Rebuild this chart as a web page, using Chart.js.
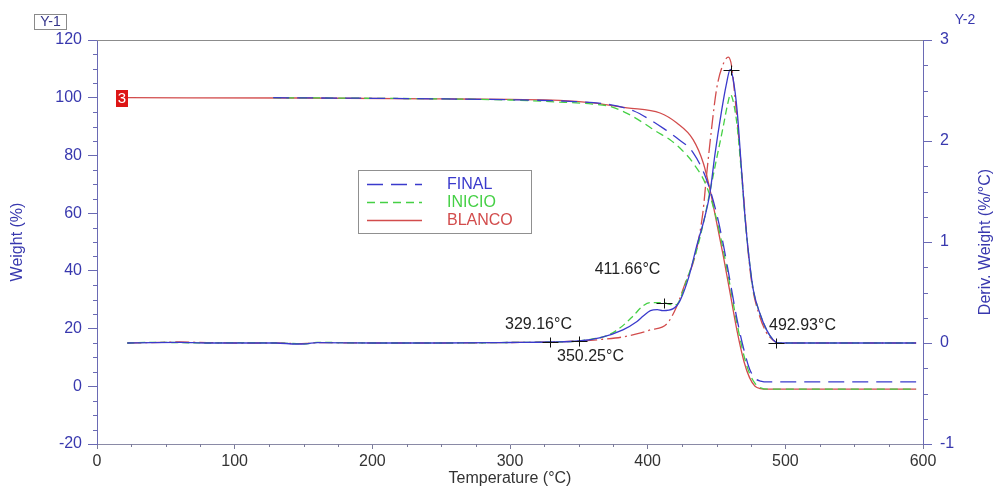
<!DOCTYPE html>
<html>
<head>
<meta charset="utf-8">
<title>TGA</title>
<script src="https://cdn.jsdelivr.net/npm/chart.js@4.4.1/dist/chart.umd.min.js"></script>
<style>
  html, body { margin: 0; padding: 0; background: #fff; }
  #wrap { width: 995px; height: 488px; }
</style>
</head>
<body>
<div id="wrap"><canvas id="tga" width="995" height="488"></canvas></div>
<script>
// TGA overlay: weight (%) on the left axis, derivative weight (%/°C) on the right.

// --------------------- Data ---------------------
const seriesNames = ["FINAL", "INICIO", "BLANCO"];

// weight curves
const tFinalW = [128, 200, 250, 300, 340, 372.6, 390, 401.7, 412, 421, 433.1, 442.8, 450, 455, 460, 465, 470, 474, 478, 482, 488, 595];
const wFinal  = [100, 99.8, 99.6, 99.3, 98.8, 97.6, 95.4, 92.4, 89.2, 86.1, 80.9, 71.6, 60, 49, 36, 23, 12.5, 6, 2.8, 1.8, 1.5, 1.5];

const tInicioW = [128, 200, 250, 300, 340, 360, 372.6, 385, 396.8, 406, 416, 425, 433, 442.8, 450, 455, 460, 465, 470, 474, 478, 482, 487, 595];
const wInicio  = [100, 99.8, 99.6, 99.2, 98.4, 97.8, 97.0, 94.6, 91.3, 88.4, 85.5, 81.8, 77.4, 69.3, 58, 47, 34.5, 21.5, 10.5, 4.5, 1, -0.5, -1, -1];

const tBlancoW = [22, 150, 250, 300, 336, 360, 385, 409, 421, 433, 440.4, 445.3, 450, 455, 460, 465, 470, 474, 478, 482, 487, 595];
const wBlanco  = [100, 99.9, 99.6, 99.4, 99.1, 98.2, 96.5, 94.7, 91.3, 85.5, 77.4, 68.1, 57, 45, 32, 19, 8.5, 3, 0, -0.8, -1, -1];

// derivative curves
const tFinalD = [22, 40, 60, 80, 100, 130, 145, 152, 160, 200, 250, 300, 330, 350, 365, 382, 392, 397, 402, 407, 411, 418.6, 423.5, 430, 436, 441, 445.3, 448.8, 453.6, 457, 460, 462, 465, 468, 471, 474, 476.8, 481.6, 486.4, 491.2, 495, 595];
const dFinal  = [0, 0.004, 0.006, 0, 0, 0, -0.01, -0.008, 0.004, 0, 0, 0.005, 0.01, 0.02, 0.05, 0.13, 0.21, 0.27, 0.32, 0.33, 0.32, 0.34, 0.42, 0.66, 0.98, 1.22, 1.49, 1.86, 2.29, 2.55, 2.71, 2.62, 2.3, 1.75, 1.2, 0.8, 0.52, 0.29, 0.13, 0.03, 0, 0];

const tInicioD = [22, 40, 60, 80, 100, 130, 145, 152, 160, 200, 250, 300, 330, 350, 360, 370, 380, 389.6, 396, 401.7, 411.4, 417, 421, 424, 428.3, 435.6, 441, 446, 450, 455, 458, 460.2, 462, 465, 468, 471, 474, 476.8, 481.6, 486.4, 491.2, 495, 595];
const dInicio  = [0, 0.006, 0.004, 0, 0.004, 0, -0.006, -0.008, 0.006, 0, 0, 0.005, 0.01, 0.02, 0.04, 0.07, 0.15, 0.27, 0.36, 0.40, 0.40, 0.38, 0.38, 0.45, 0.62, 0.92, 1.22, 1.55, 1.82, 2.15, 2.36, 2.46, 2.4, 2.15, 1.7, 1.2, 0.8, 0.52, 0.29, 0.13, 0.03, 0, 0];

const tBlancoD = [22, 40, 60, 80, 100, 130, 145, 152, 160, 200, 250, 300, 330, 350, 370, 382, 395, 402, 414, 421, 428, 434, 440, 443, 446.4, 450, 454, 458.6, 461, 464, 467, 470, 473, 476, 481, 486, 491, 495, 595];
const dBlanco  = [0, 0.004, 0.01, 0.004, 0, 0, -0.006, -0.004, 0.004, 0, 0, 0.005, 0.01, 0.02, 0.04, 0.06, 0.1, 0.13, 0.19, 0.36, 0.62, 0.84, 1.28, 1.69, 2.12, 2.51, 2.73, 2.83, 2.74, 2.35, 1.9, 1.4, 0.9, 0.56, 0.28, 0.11, 0.03, 0, 0];

// marked temperatures on the derivative curves (last one is the unlabeled peak)
const markTemps = [329.16, 350.25, 411.66, 492.93, 460.5];
const markDeriv = [0.005, 0.015, 0.40, 0.0, 2.70];

// axes
const tempRange = [0, 600];
const weightRange = [-20, 120];
const derivRange = [-1, 3];

// --------------------- Styles ---------------------
const FONT = "'Liberation Sans', Arial, sans-serif";
const BLUE_TXT = "#3838ae";
const AXIS_BLUE = "#6a6ab4";
const colors = { FINAL: "#3a3acc", INICIO: "#45d045", BLANCO: "#d24c4c" };
const weightDash = { FINAL: [16, 8], INICIO: [8, 5], BLANCO: [] };
const derivDash = { FINAL: [], INICIO: [7, 4], BLANCO: [14, 4, 2, 4] };

const pts = (xs, ys) => xs.map((x, i) => ({ x, y: ys[i] }));

function line(label, data, axis, color, dash) {
  return {
    label, data, yAxisID: axis,
    borderColor: color, backgroundColor: color,
    borderWidth: 1.3, borderDash: dash,
    pointRadius: 0, showLine: true, fill: false,
    cubicInterpolationMode: "monotone"
  };
}

const datasets = [
  line("FINAL", pts(tFinalW, wFinal), "y", colors.FINAL, weightDash.FINAL),
  line("FINAL d", pts(tFinalD, dFinal), "y2", colors.FINAL, derivDash.FINAL),
  line("INICIO", pts(tInicioW, wInicio), "y", colors.INICIO, weightDash.INICIO),
  line("INICIO d", pts(tInicioD, dInicio), "y2", colors.INICIO, derivDash.INICIO),
  line("BLANCO", pts(tBlancoW, wBlanco), "y", colors.BLANCO, weightDash.BLANCO),
  line("BLANCO d", pts(tBlancoD, dBlanco), "y2", colors.BLANCO, derivDash.BLANCO)
];

// --------------------- Plugins ---------------------
function drawMinor(ctx, scale, step, major, len, side, color) {
  ctx.save();
  ctx.strokeStyle = color;
  ctx.lineWidth = 1;
  ctx.beginPath();
  for (let v = scale.min; v <= scale.max + 1e-9; v += step) {
    const r = v / major;
    if (Math.abs(r - Math.round(r)) < 1e-6) continue;
    const p = Math.round(scale.getPixelForValue(v)) + 0.5;
    if (side === "left") { ctx.moveTo(scale.right - len, p); ctx.lineTo(scale.right, p); }
    else if (side === "right") { ctx.moveTo(scale.left, p); ctx.lineTo(scale.left + len, p); }
    else { ctx.moveTo(p, scale.top); ctx.lineTo(p, scale.top + len); }
  }
  ctx.stroke();
  ctx.restore();
}

const framePlugin = {
  id: "frame",
  afterDraw(chart) {
    const { ctx, chartArea: a, scales } = chart;
    // top border
    ctx.save();
    ctx.strokeStyle = "#8c8c8c";
    ctx.lineWidth = 1;
    ctx.beginPath();
    ctx.moveTo(a.left, Math.round(a.top) + 0.5);
    ctx.lineTo(a.right, Math.round(a.top) + 0.5);
    ctx.stroke();
    ctx.restore();

    drawMinor(ctx, scales.y, 5, 20, 4, "left", AXIS_BLUE);
    drawMinor(ctx, scales.y2, 0.25, 1, 5, "right", AXIS_BLUE);
    drawMinor(ctx, scales.x, 25, 100, 3, "bottom", "#7a7a9a");

    // "Y-1" tag
    ctx.save();
    ctx.strokeStyle = "#8a8a8a";
    ctx.strokeRect(34.5, 14.5, 32, 15);
    ctx.font = "14px " + FONT;
    ctx.fillStyle = "#33338a";
    ctx.textAlign = "center";
    ctx.textBaseline = "middle";
    ctx.fillText("Y-1", 50.5, 22.5);
    ctx.fillStyle = BLUE_TXT;
    ctx.fillText("Y-2", 965, 20);

    // right axis title, reading upward
    ctx.font = "16px " + FONT;
    ctx.translate(986, (a.top + a.bottom) / 2);
    ctx.rotate(-Math.PI / 2);
    ctx.fillText("Deriv. Weight (%/°C)", 0, 0);
    ctx.restore();
  }
};

// crosses + temperature labels on the derivative curves
const labelNudge = [[-12, -18], [11, 15], [-37, -34], [26, -18]];
const marksPlugin = {
  id: "marks",
  afterDatasetsDraw(chart) {
    const { ctx, scales } = chart;
    ctx.save();
    ctx.strokeStyle = "#111";
    ctx.lineWidth = 1;
    ctx.font = "16px " + FONT;
    ctx.fillStyle = "#222";
    ctx.textAlign = "center";
    ctx.textBaseline = "middle";
    markTemps.forEach((t, i) => {
      const px = Math.round(scales.x.getPixelForValue(t)) + 0.5;
      const py = Math.round(scales.y2.getPixelForValue(markDeriv[i])) + 0.5;
      ctx.beginPath();
      ctx.moveTo(px - 8, py); ctx.lineTo(px + 8, py);
      ctx.moveTo(px, py - 5); ctx.lineTo(px, py + 5);
      ctx.stroke();
      const n = labelNudge[i];
      if (n) ctx.fillText(t.toFixed(2) + "°C", px + n[0], py + n[1]);
    });

    // start tag on the BLANCO weight curve
    const sx = scales.x.getPixelForValue(tBlancoW[0]);
    const sy = scales.y.getPixelForValue(wBlanco[0]);
    ctx.fillStyle = "#dd1515";
    ctx.fillRect(Math.round(sx) - 11, Math.round(sy) - 8, 12, 17);
    ctx.fillStyle = "#fff";
    ctx.font = "15px " + FONT;
    ctx.fillText("3", Math.round(sx) - 5, Math.round(sy) + 1);
    ctx.restore();
  }
};

const legendPlugin = {
  id: "legendBox",
  afterDatasetsDraw(chart) {
    const { ctx } = chart;
    const bx = 358, by = 170, bw = 173, bh = 63;
    ctx.save();
    ctx.fillStyle = "#fff";
    ctx.fillRect(bx, by, bw, bh);
    ctx.strokeStyle = "#909090";
    ctx.lineWidth = 1;
    ctx.strokeRect(bx + 0.5, by + 0.5, bw, bh);
    ctx.font = "16px " + FONT;
    ctx.textBaseline = "middle";
    seriesNames.forEach((name, i) => {
      const y = by + 14.5 + i * 18;
      ctx.strokeStyle = colors[name];
      ctx.lineWidth = 1.4;
      ctx.setLineDash(weightDash[name]);
      ctx.beginPath();
      ctx.moveTo(bx + 9, y);
      ctx.lineTo(bx + 64, y);
      ctx.stroke();
      ctx.setLineDash([]);
      ctx.fillStyle = colors[name];
      ctx.fillText(name, bx + 89, y);
    });
    ctx.restore();
  }
};

// --------------------- Chart ---------------------
new Chart(document.getElementById("tga").getContext("2d"), {
  type: "scatter",
  data: { datasets },
  options: {
    responsive: false,
    animation: false,
    layout: { padding: { top: 40, left: 0, right: 0, bottom: 0 } },
    plugins: { legend: { display: false }, tooltip: { enabled: false } },
    scales: {
      x: {
        type: "linear", min: tempRange[0], max: tempRange[1],
        ticks: { stepSize: 100, color: "#333", font: { size: 16, family: FONT }, padding: 3, maxRotation: 0 },
        grid: { drawOnChartArea: false, tickLength: 5, tickColor: "#7a7a9a" },
        border: { color: "#8a8aa6", width: 1 },
        title: { display: true, text: "Temperature (°C)", color: "#333", font: { size: 16, family: FONT }, padding: { top: 0, bottom: 0 } },
        afterFit: (s) => { s.height = 44; }
      },
      y: {
        position: "left", min: weightRange[0], max: weightRange[1],
        ticks: { stepSize: 20, color: BLUE_TXT, font: { size: 16, family: FONT }, padding: 6 },
        grid: { drawOnChartArea: false, tickLength: 9, tickColor: AXIS_BLUE },
        border: { color: AXIS_BLUE, width: 1 },
        title: { display: true, text: "Weight (%)", color: BLUE_TXT, font: { size: 16, family: FONT }, padding: { top: 8, bottom: 0 } },
        afterFit: (s) => { s.width = 97; }
      },
      y2: {
        position: "right", min: derivRange[0], max: derivRange[1],
        ticks: { stepSize: 1, color: BLUE_TXT, font: { size: 16, family: FONT }, padding: 8 },
        grid: { drawOnChartArea: false, tickLength: 9, tickColor: AXIS_BLUE },
        border: { color: AXIS_BLUE, width: 1 },
        afterFit: (s) => { s.width = 72; }
      }
    }
  },
  plugins: [framePlugin, marksPlugin, legendPlugin]
});
</script>
</body>
</html>
